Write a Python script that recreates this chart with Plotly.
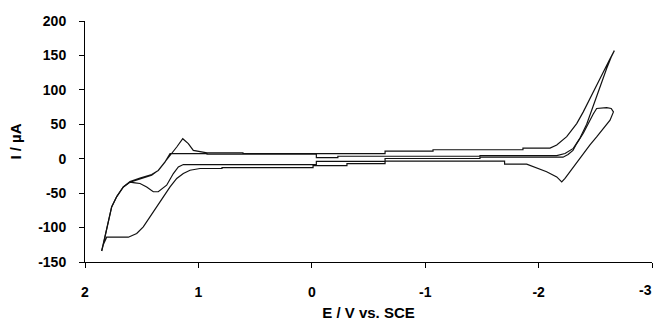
import plotly.graph_objects as go

# Loop A: outer cycle (vertex +158 uA at -2.67 V)
loopA_E = [1.853, 1.809, 1.780, 1.765, 1.720, 1.662, 1.603, 1.515, 1.412, 1.354, 1.295, 1.235,
           1.191, 1.138, 1.089, 1.045, 0.986, 0.924, 0.607, 0.607, -0.646, -0.646, -1.069, -1.069,
           -1.862, -1.862, -2.101, -2.160, -2.248, -2.336, -2.394, -2.453, -2.512, -2.571, -2.630,
           -2.668, -2.644, -2.600, -2.541, -2.482, -2.424, -2.365, -2.306, -2.233, -2.160, -1.483,
           -1.483, -0.230, -0.230, -0.040, -0.040, 0.924, 0.924, 1.250, 1.265, 1.295, 1.354, 1.412,
           1.515, 1.603, 1.662, 1.720, 1.765, 1.809, 1.839, 1.853]
loopA_I = [-134, -104, -82, -70, -55, -41, -34, -29, -24, -17, -5, 7.5,
           17, 29, 22, 12, 10, 8.5, 8.5, 7.5, 7.5, 11, 11, 13,
           13, 15.5, 15.5, 20, 32, 51, 68, 88, 106, 126, 145,
           157, 149, 131, 104, 75, 50, 30, 15, 7.5, 4.4, 4.4,
           3.6, 3.6, 1.5, 1.5, 6.5, 6.5, 7.5, 7.5, 3, -5, -17, -23,
           -28, -33, -41, -55, -70, -104, -124, -134]

# Loop B: inner cycle (vertex +68 uA at -2.67 V)
loopB_E = [1.853, 1.839, 1.809, 1.618, 1.544, 1.486, 1.427, 1.368, 1.310, 1.250, 1.191, 1.133,
           1.074, 0.986, 0.792, 0.792, -0.011, -0.011, -0.310, -0.310, -0.646, -0.646, -1.700,
           -1.700, -1.895, -1.997, -2.071, -2.160, -2.189, -2.204, -2.233, -2.306, -2.394, -2.453,
           -2.512, -2.571, -2.630, -2.660, -2.640, -2.600, -2.512, -2.482, -2.453, -2.424, -2.394,
           -2.336, -2.303, -2.260, -2.215, -1.483, -1.483, -0.646, -0.646, -0.040, -0.040, 1.133,
           1.177, 1.221, 1.265, 1.280, 1.354, 1.398, 1.456, 1.515, 1.559, 1.603, 1.662, 1.720,
           1.765, 1.780, 1.809, 1.839, 1.853]
loopB_I = [-134, -125, -114, -114, -108.6, -99, -84.5, -70, -55.4, -41, -28.7, -21.5,
           -16.7, -14.2, -14.2, -12.8, -12.8, -10, -10, -7, -7, -3.6, -3.6,
           -8, -8, -14.2, -19, -26.4, -31, -33.7, -28.7, -12, 7.5, 20,
           31.6, 44, 55.9, 68, 73, 74.3, 73, 65, 56, 46, 37,
           22, 12, 6, 2.2, 2.2, 0.3, 0.3, -4, -4, -8.5, -8.5,
           -12, -21.5, -33.7, -38.5, -48, -48, -41, -36, -35, -34, -41, -55,
           -70, -82, -104, -125, -134]

x_ticks = [2, 1, 0, -1, -2, -3]
x_ticklabels = ["2", "1", "0", "-1", "-2", "-3"]
y_ticks = [-150, -100, -50, 0, 50, 100, 150, 200]

FONT = "Liberation Sans, Arial, sans-serif"
TICKFONT = dict(family=FONT, size=14, color="black", weight="bold")

fig = go.Figure()
for ex, iy in [(loopA_E, loopA_I), (loopB_E, loopB_I)]:
    fig.add_trace(go.Scatter(x=ex, y=iy, mode="lines",
                             line=dict(color="#111111", width=1.2),
                             showlegend=False, hoverinfo="skip"))

fig.update_layout(
    width=655, height=322,
    margin=dict(l=85, r=3, t=21, b=60),
    paper_bgcolor="white", plot_bgcolor="white",
    font=dict(family=FONT, color="black"),
)
# the last x label sits at the window edge: draw it right-aligned so it stays whole
fig.update_xaxes(
    range=[2, -3], tickvals=x_ticks, ticktext=x_ticklabels[:-1] + [""],
    showgrid=False, zeroline=False, showline=True, linecolor="black", linewidth=1,
    ticks="outside", ticklen=5, tickcolor="black", tickwidth=1,
    tickfont=TICKFONT,
    ticklabelstandoff=12, ticklabeloverflow="allow",
    title=dict(text="E / V vs. SCE", standoff=8,
               font=dict(family=FONT, size=15, color="black", weight="bold")),
    automargin=False,
)
fig.add_annotation(
    x=x_ticks[-1], xref="x", y=0, yref="paper", text=x_ticklabels[-1],
    showarrow=False, xanchor="right", yanchor="middle", xshift=1, yshift=-28,
    font=TICKFONT, borderpad=0,
)
fig.update_yaxes(
    range=[-150, 200], tickvals=y_ticks, ticktext=[str(v) for v in y_ticks],
    showgrid=False, zeroline=False, showline=True, linecolor="black", linewidth=1,
    ticks="outside", ticklen=5, tickcolor="black", tickwidth=1,
    tickfont=TICKFONT,
    ticklabelstandoff=10, ticklabeloverflow="allow",
    title=dict(text="I / µA", standoff=12,
               font=dict(family=FONT, size=15, color="black", weight="bold")),
    automargin=False,
)

fig.write_html(
    "out.html",
    config={"displayModeBar": False, "staticPlot": True},
    post_script="document.body.style.margin='0';document.body.style.overflow='hidden';",
)
